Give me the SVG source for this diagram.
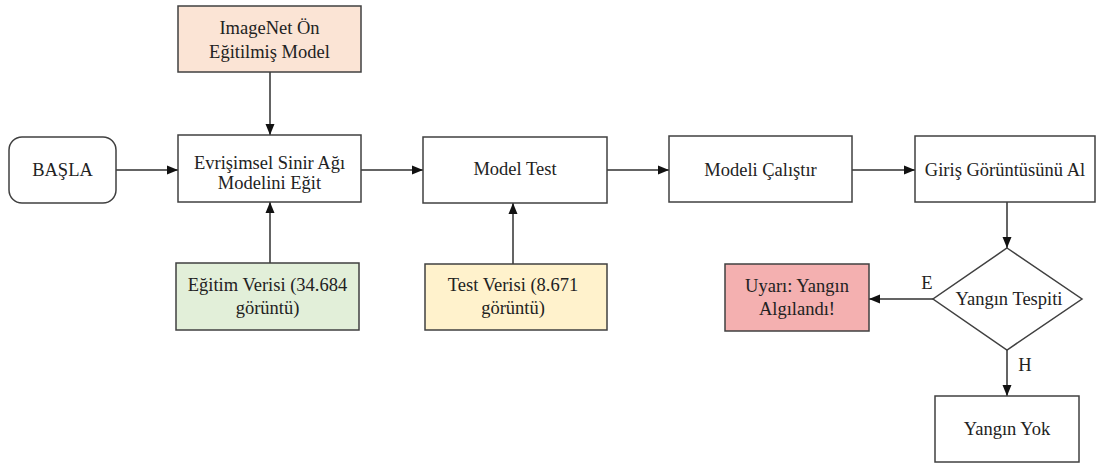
<svg xmlns="http://www.w3.org/2000/svg" width="1097" height="464" viewBox="0 0 1097 464">
<defs>
<style>
.box{stroke:#404040;stroke-width:1.5;fill:#ffffff}
.t{font-family:'Liberation Serif','Times New Roman',serif;font-size:18.5px;fill:#222;text-anchor:middle}
.c{stroke:#303030;stroke-width:1.5;fill:none;marker-end:url(#ah)}
</style>
<marker id="ah" markerUnits="userSpaceOnUse" markerWidth="12" markerHeight="10" refX="11" refY="5" orient="auto">
<path d="M0,0.5 L11,5 L0,9.5 z" fill="#111"/>
</marker>
</defs>
<rect width="1097" height="464" fill="#ffffff"/>
<g id="connectors">
<line class="c" x1="116" y1="170" x2="178" y2="170"/>
<line class="c" x1="270" y1="72" x2="270" y2="135"/>
<line class="c" x1="270" y1="263" x2="270" y2="202"/>
<line class="c" x1="361" y1="170" x2="423" y2="170"/>
<line class="c" x1="513" y1="264" x2="513" y2="203"/>
<line class="c" x1="607" y1="170" x2="669" y2="170"/>
<line class="c" x1="852" y1="170" x2="915" y2="170"/>
<line class="c" x1="1007" y1="202" x2="1007" y2="248"/>
<line class="c" x1="933" y1="299" x2="869" y2="299"/>
<line class="c" x1="1007" y1="350" x2="1007" y2="396"/>
<text class="t" x="927" y="289">E</text>
<text class="t" x="1025" y="371">H</text>
</g>
<g id="basla">
<rect class="box" x="9" y="137" width="107" height="66" rx="13"/>
<text class="t" x="62.5" y="176">BAŞLA</text>
</g>
<g id="imagenet">
<rect class="box" x="178" y="6" width="183" height="66" style="fill:#fbe4d5"/>
<text class="t" x="269.5" y="34">ImageNet Ön</text>
<text class="t" x="269.5" y="58">Eğitilmiş Model</text>
</g>
<g id="egit">
<rect class="box" x="178" y="135" width="183" height="67"/>
<text class="t" x="269.5" y="169">Evrişimsel Sinir Ağı</text>
<text class="t" x="269.5" y="189">Modelini Eğit</text>
</g>
<g id="egitimverisi">
<rect class="box" x="176" y="263" width="183" height="67" style="fill:#e2efd9"/>
<text class="t" x="267.5" y="291">Eğitim Verisi (34.684</text>
<text class="t" x="267.5" y="314">görüntü)</text>
</g>
<g id="modeltest">
<rect class="box" x="423" y="137" width="184" height="66"/>
<text class="t" x="515" y="175">Model Test</text>
</g>
<g id="testverisi">
<rect class="box" x="425" y="264" width="182" height="66" style="fill:#fff2cc"/>
<text class="t" x="513" y="291">Test Verisi (8.671</text>
<text class="t" x="513" y="314">görüntü)</text>
</g>
<g id="calistir">
<rect class="box" x="669" y="136" width="183" height="66"/>
<text class="t" x="760.5" y="176">Modeli Çalıştır</text>
</g>
<g id="giris">
<rect class="box" x="915" y="136" width="180" height="66"/>
<text class="t" x="1005" y="176">Giriş Görüntüsünü Al</text>
</g>
<g id="tespit">
<polygon class="box" points="1007,248 1082,299 1007,350 933,299"/>
<text class="t" x="1009" y="305">Yangın Tespiti</text>
</g>
<g id="uyari">
<rect class="box" x="725" y="264" width="144" height="67" style="fill:#f4b0b0"/>
<text class="t" x="797" y="292">Uyarı: Yangın</text>
<text class="t" x="797" y="315">Algılandı!</text>
</g>
<g id="yok">
<rect class="box" x="935" y="396" width="144" height="66"/>
<text class="t" x="1007" y="435">Yangın Yok</text>
</g>
</svg>
